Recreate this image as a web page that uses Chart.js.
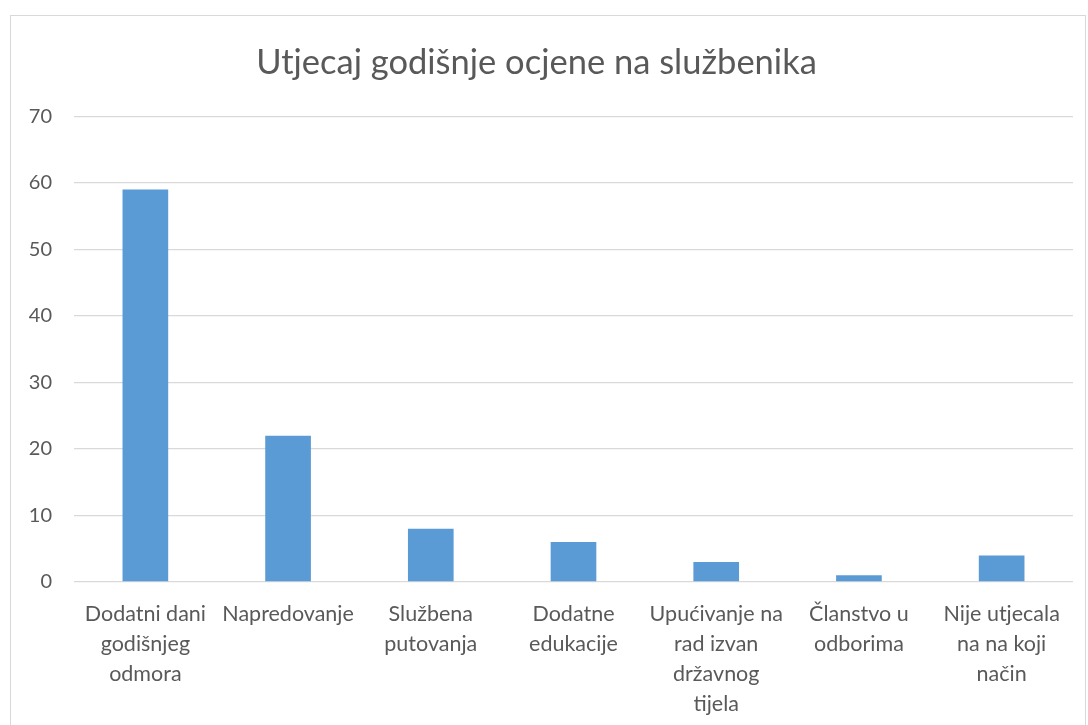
<!DOCTYPE html>
<html lang="hr">
<head>
    <meta charset="UTF-8">
    <title>Utjecaj godišnje ocjene na službenika</title>
    <script src="https://cdn.jsdelivr.net/npm/chart.js"></script>
    <style>
        body { margin: 0; background: #fff; }
        #wrap { position: relative; width: 1088px; height: 725px; }
        #frame { position: absolute; left: 10px; top: 15px; width: 1076px; height: 720px; border: 1px solid #d9d9d9; box-sizing: border-box; }
        canvas { position: absolute; left: 0; top: 0; }
    </style>
</head>
<body>
<div id="wrap">
    <div id="frame"></div>
    <canvas id="chart" width="1088" height="725"></canvas>
</div>
<script>
    // kategorije (višeredni nazivi kao na slici)
    const categories = [
        ['Dodatni dani', 'godišnjeg', 'odmora'],
        'Napredovanje',
        ['Službena', 'putovanja'],
        ['Dodatne', 'edukacije'],
        ['Upućivanje na', 'rad izvan', 'državnog', 'tijela'],
        ['Članstvo u', 'odborima'],
        ['Nije utjecala', 'na na koji', 'način']
    ];
    const values = [59, 22, 8, 6, 3, 1, 4];
    const yTicks = [0, 10, 20, 30, 40, 50, 60, 70];

    const textColor = '#595959';
    const fontFamily = 'Lato, "Open Sans", sans-serif';

    new Chart(document.getElementById('chart'), {
        type: 'bar',
        data: {
            labels: categories,
            datasets: [{
                label: 'Broj',
                data: values,
                backgroundColor: '#5b9bd5',
                categoryPercentage: 1,
                barPercentage: 0.32
            }]
        },
        options: {
            responsive: false,
            animation: false,
            layout: { padding: { top: 38, right: 15, bottom: 6, left: 0 } },
            plugins: {
                legend: { display: false },
                tooltip: { enabled: false },
                title: {
                    display: true,
                    text: 'Utjecaj godišnje ocjene na službenika',
                    color: textColor,
                    font: { family: fontFamily, size: 34.5, weight: 'normal' },
                    padding: { top: 4, bottom: 33 }
                }
            },
            scales: {
                x: {
                    afterFit: (axis) => { axis.height = 137; },
                    grid: { display: false, drawTicks: false },
                    border: { display: false },
                    ticks: {
                        color: textColor,
                        font: { family: fontFamily, size: 21.5, lineHeight: 1.4 },
                        maxRotation: 0,
                        autoSkip: false,
                        padding: 17
                    }
                },
                y: {
                    min: 0,
                    max: 70,
                    afterBuildTicks: (axis) => { axis.ticks = yTicks.map(v => ({ value: v })); },
                    afterFit: (axis) => { axis.width = 74; },
                    grid: { color: '#d9d9d9', lineWidth: 1.3, drawTicks: false },
                    border: { display: false },
                    ticks: {
                        color: textColor,
                        font: { family: fontFamily, size: 20 },
                        padding: 22
                    }
                }
            }
        }
    });
</script>
</body>
</html>
